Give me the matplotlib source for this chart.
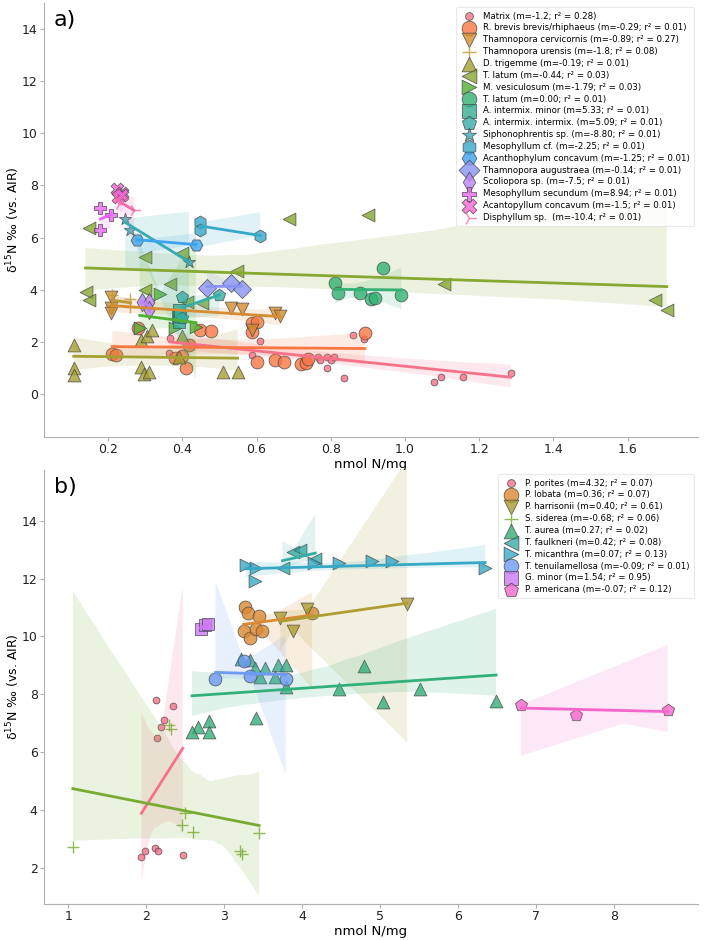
import numpy as np
import matplotlib
matplotlib.use("Agg")
import matplotlib.pyplot as plt
import seaborn as sns

# ---------------- panel a ----------------
labels_a = [
    "Matrix (m=-1.2; r\u00b2 = 0.28)",
    "R. brevis brevis/rhiphaeus (m=-0.29; r\u00b2 = 0.01)",
    "Thamnopora cervicornis (m=-0.89; r\u00b2 = 0.27)",
    "Thamnopora urensis (m=-1.8; r\u00b2 = 0.08)",
    "D. trigemme (m=-0.19; r\u00b2 = 0.01)",
    "T. latum (m=-0.44; r\u00b2 = 0.03)",
    "M. vesiculosum (m=-1.79; r\u00b2 = 0.03)",
    "T. latum (m=0.00; r\u00b2 = 0.01)",
    "A. intermix. minor (m=5.33; r\u00b2 = 0.01)",
    "A. intermix. intermix. (m=5.09; r\u00b2 = 0.01)",
    "Siphonophrentis sp. (m=-8.80; r\u00b2 = 0.01)",
    "Mesophyllum cf. (m=-2.25; r\u00b2 = 0.01)",
    "Acanthophylum concavum (m=-1.25; r\u00b2 = 0.01)",
    "Thamnopora augustraea (m=-0.14; r\u00b2 = 0.01)",
    "Scoliopora sp. (m=-7.5; r\u00b2 = 0.01)",
    "Mesophyllum secundum (m=8.94; r\u00b2 = 0.01)",
    "Acantopyllum concavum (m=-1.5; r\u00b2 = 0.01)",
    "Disphyllum sp.  (m=-10.4; r\u00b2 = 0.01)",
]

matrix_x = [0.368, 0.365, 0.589, 0.61, 0.765, 0.77, 0.79, 0.80, 0.81, 0.79,
            0.836, 0.86, 0.89, 1.078, 1.097, 1.157, 1.285]
matrix_y = [2.15, 1.58, 1.5, 2.04, 1.42, 1.31, 1.42, 1.31, 1.42, 1.0,
            0.62, 2.27, 2.12, 0.46, 0.65, 0.65, 0.81]
brevis_x = [0.211, 0.222, 0.28, 0.448, 0.477, 0.418, 0.379, 0.40, 0.41, 0.589,
            0.60, 0.589, 0.602, 0.65, 0.674, 0.72, 0.733, 0.738, 0.892]
brevis_y = [1.54, 1.5, 2.54, 2.46, 2.42, 1.88, 1.38, 1.46, 1.0, 2.73,
            2.78, 2.38, 1.23, 1.31, 1.23, 1.15, 1.19, 1.35, 2.35]
cervicornis_x = [0.208, 0.208, 0.208, 0.53, 0.56, 0.589, 0.65, 0.663]
cervicornis_y = [3.73, 3.3, 3.12, 3.31, 3.27, 2.46, 3.12, 3.0]
urensis_x = [0.21, 0.21, 0.26, 0.26]
urensis_y = [3.8, 3.4, 3.65, 3.35]
trigemme_x = [0.107, 0.107, 0.107, 0.288, 0.304, 0.317, 0.288, 0.296, 0.309,
              0.40, 0.39, 0.509, 0.549]
trigemme_y = [1.88, 1.0, 0.73, 2.08, 2.23, 2.46, 1.04, 0.77, 0.85,
              2.23, 1.42, 0.85, 0.85]
latum_x = [0.147, 0.687, 0.40, 0.299, 0.368, 0.139, 0.147, 0.299, 0.413,
           0.453, 0.546, 0.90, 1.104, 1.674, 1.706]
latum_y = [6.35, 6.73, 5.42, 5.27, 4.23, 3.92, 3.62, 4.0, 3.54,
           3.5, 4.73, 6.85, 4.23, 3.62, 3.23]
vesiculosum_x = [0.285, 0.341, 0.379, 0.437]
vesiculosum_y = [2.54, 3.85, 2.54, 2.58]
latum2_x = [0.812, 0.82, 0.878, 0.908, 0.918, 0.94, 0.99]
latum2_y = [4.27, 3.88, 3.88, 3.65, 3.69, 4.85, 3.81]
minor_x = [0.387, 0.390, 0.390, 0.393]
minor_y = [2.96, 3.23, 2.77, 3.0]
intermix_x = [0.40, 0.40, 0.50]
intermix_y = [3.73, 2.9, 3.8]
siphono_x = [0.246, 0.259, 0.418]
siphono_y = [6.73, 6.31, 5.08]
mesocf_x = [0.448, 0.448, 0.61]
mesocf_y = [6.58, 6.31, 6.08]
acanthophylum_x = [0.278, 0.437]
acanthophylum_y = [5.92, 5.73]
augustraea_x = [0.466, 0.53, 0.56]
augustraea_y = [4.08, 4.27, 4.04]
scoliopora_x = [0.29, 0.31, 0.31]
scoliopora_y = [3.54, 3.54, 3.23]
secundum_x = [0.179, 0.208, 0.179]
secundum_y = [7.12, 6.88, 6.31]
acantopyllum_x = [0.224, 0.238, 0.227, 0.236]
acantopyllum_y = [7.88, 7.73, 7.54, 7.62]
disphyllum_x = [0.225, 0.23, 0.27]
disphyllum_y = [7.5, 7.3, 7.05]

xs_a = [matrix_x, brevis_x, cervicornis_x, urensis_x, trigemme_x, latum_x,
        vesiculosum_x, latum2_x, minor_x, intermix_x, siphono_x, mesocf_x,
        acanthophylum_x, augustraea_x, scoliopora_x, secundum_x,
        acantopyllum_x, disphyllum_x]
ys_a = [matrix_y, brevis_y, cervicornis_y, urensis_y, trigemme_y, latum_y,
        vesiculosum_y, latum2_y, minor_y, intermix_y, siphono_y, mesocf_y,
        acanthophylum_y, augustraea_y, scoliopora_y, secundum_y,
        acantopyllum_y, disphyllum_y]
markers_a = ["o", "o", "v", "+", "^", "<", ">", "o", "s", "p", "*", "h",
             "H", "D", "d", "P", "X", "4"]

# ---------------- panel b ----------------
labels_b = [
    "P. porites (m=4.32; r\u00b2 = 0.07)",
    "P. lobata (m=0.36; r\u00b2 = 0.07)",
    "P. harrisonii (m=0.40; r\u00b2 = 0.61)",
    "S. siderea (m=-0.68; r\u00b2 = 0.06)",
    "T. aurea (m=0.27; r\u00b2 = 0.02)",
    "T. faulkneri (m=0.42; r\u00b2 = 0.08)",
    "T. micanthra (m=0.07; r\u00b2 = 0.13)",
    "T. tenuilamellosa (m=-0.09; r\u00b2 = 0.01)",
    "G. minor (m=1.54; r\u00b2 = 0.95)",
    "P. americana (m=-0.07; r\u00b2 = 0.12)",
]

porites_x = [2.13, 2.35, 2.23, 2.19, 2.14, 1.98, 2.12, 2.15, 1.94, 2.47]
porites_y = [7.81, 7.6, 7.12, 6.88, 6.5, 2.59, 2.69, 2.59, 2.38, 2.45]
lobata_x = [3.27, 3.31, 3.45, 3.25, 3.33, 3.41, 3.49, 4.13]
lobata_y = [11.0, 10.82, 10.69, 10.17, 9.96, 10.27, 10.17, 10.82]
harrisonii_x = [3.72, 3.89, 4.07, 5.35]
harrisonii_y = [10.65, 10.2, 10.93, 11.13]
siderea_x = [1.06, 2.29, 2.32, 2.5, 2.46, 2.6, 3.2, 3.23, 3.45]
siderea_y = [2.73, 6.95, 6.8, 3.9, 3.49, 3.25, 2.59, 2.48, 3.21]
aurea_x = [3.22, 3.33, 3.40, 3.53, 3.46, 3.69, 3.80, 3.65, 3.80, 3.41,
           2.81, 2.81, 2.67, 2.59, 4.48, 4.79, 5.04, 5.52, 6.49]
aurea_y = [9.23, 9.2, 8.92, 8.92, 8.61, 9.02, 9.02, 8.61, 8.26, 7.19,
           7.09, 6.71, 6.88, 6.71, 8.19, 8.99, 7.74, 8.19, 7.78]
faulkneri_x = [3.75, 3.88, 3.97, 4.17]
faulkneri_y = [12.35, 12.93, 12.97, 12.69]
micanthra_x = [3.28, 3.41, 3.40, 4.16, 4.48, 4.90, 5.15, 6.35]
micanthra_y = [12.48, 12.35, 11.93, 12.52, 12.52, 12.59, 12.59, 12.35]
tenui_x = [2.89, 3.26, 3.33, 3.79]
tenui_y = [8.54, 9.16, 8.64, 8.54]
gminor_x = [2.70, 2.76, 2.80]
gminor_y = [10.27, 10.4, 10.43]
americana_x = [6.81, 7.51, 8.69]
americana_y = [7.64, 7.29, 7.47]

xs_b = [porites_x, lobata_x, harrisonii_x, siderea_x, aurea_x, faulkneri_x,
        micanthra_x, tenui_x, gminor_x, americana_x]
ys_b = [porites_y, lobata_y, harrisonii_y, siderea_y, aurea_y, faulkneri_y,
        micanthra_y, tenui_y, gminor_y, americana_y]
markers_b = ["o", "o", "v", "+", "^", "<", ">", "o", "s", "p"]

line_markers = ["1", "2", "3", "4", "+", "x"]


def draw_panel(ax, xs, ys, labels, markers, tag):
    colors = sns.color_palette("husl", len(labels))
    for i in range(len(labels)):
        size = 24 if i == 0 else 85
        skw = {"s": size, "alpha": 0.8}
        if markers[i] in line_markers:
            skw["linewidths"] = 1.0
        else:
            skw["edgecolor"] = "#444444"
            skw["linewidths"] = 0.6
        sns.regplot(x=np.array(xs[i]), y=np.array(ys[i]), ax=ax,
                    color=colors[i], marker=markers[i], label=labels[i],
                    scatter_kws=skw, line_kws={"lw": 2}, seed=0)
    for s in ["top", "right"]:
        ax.spines[s].set_visible(False)
    for s in ["left", "bottom"]:
        ax.spines[s].set_color("#b0b0b0")
    ax.tick_params(colors="#b0b0b0", labelcolor="#222222", labelsize=9,
                   length=3, pad=1.5)
    ax.set_xlabel("nmol N/mg", fontsize=9.5, labelpad=1)
    ax.set_ylabel("\u03b4$^{15}$N \u2030 (vs. AIR)", fontsize=9)
    ax.yaxis.set_label_coords(-0.033, 0.5)
    ax.text(0.015, 0.985, tag, transform=ax.transAxes, fontsize=16,
            va="top", ha="left")
    leg = ax.legend(loc="upper right", fontsize=6.2, labelspacing=0.33,
                    handletextpad=0.6, borderpad=0.5, framealpha=0.85,
                    markerscale=1.15)
    leg.get_frame().set_edgecolor("#e6e6e6")
    leg.get_frame().set_linewidth(0.8)


fig = plt.figure(figsize=(7.04, 9.4), dpi=100)
ax_a = fig.add_axes([44 / 704, 1 - 437 / 940, 654 / 704, 434 / 940])
ax_b = fig.add_axes([44 / 704, 1 - 904 / 940, 654 / 704, 434 / 940])

draw_panel(ax_a, xs_a, ys_a, labels_a, markers_a, "a)")
draw_panel(ax_b, xs_b, ys_b, labels_b, markers_b, "b)")

ax_a.set_xlim(0.027, 1.79)
ax_a.set_ylim(-1.65, 15.0)
ax_a.set_xticks([0.2, 0.4, 0.6, 0.8, 1.0, 1.2, 1.4, 1.6])
ax_a.set_yticks([0, 2, 4, 6, 8, 10, 12, 14])

ax_b.set_xlim(0.69, 9.08)
ax_b.set_ylim(0.75, 15.75)
ax_b.set_xticks([1, 2, 3, 4, 5, 6, 7, 8])
ax_b.set_yticks([2, 4, 6, 8, 10, 12, 14])

fig.savefig("out.png", dpi=100)
